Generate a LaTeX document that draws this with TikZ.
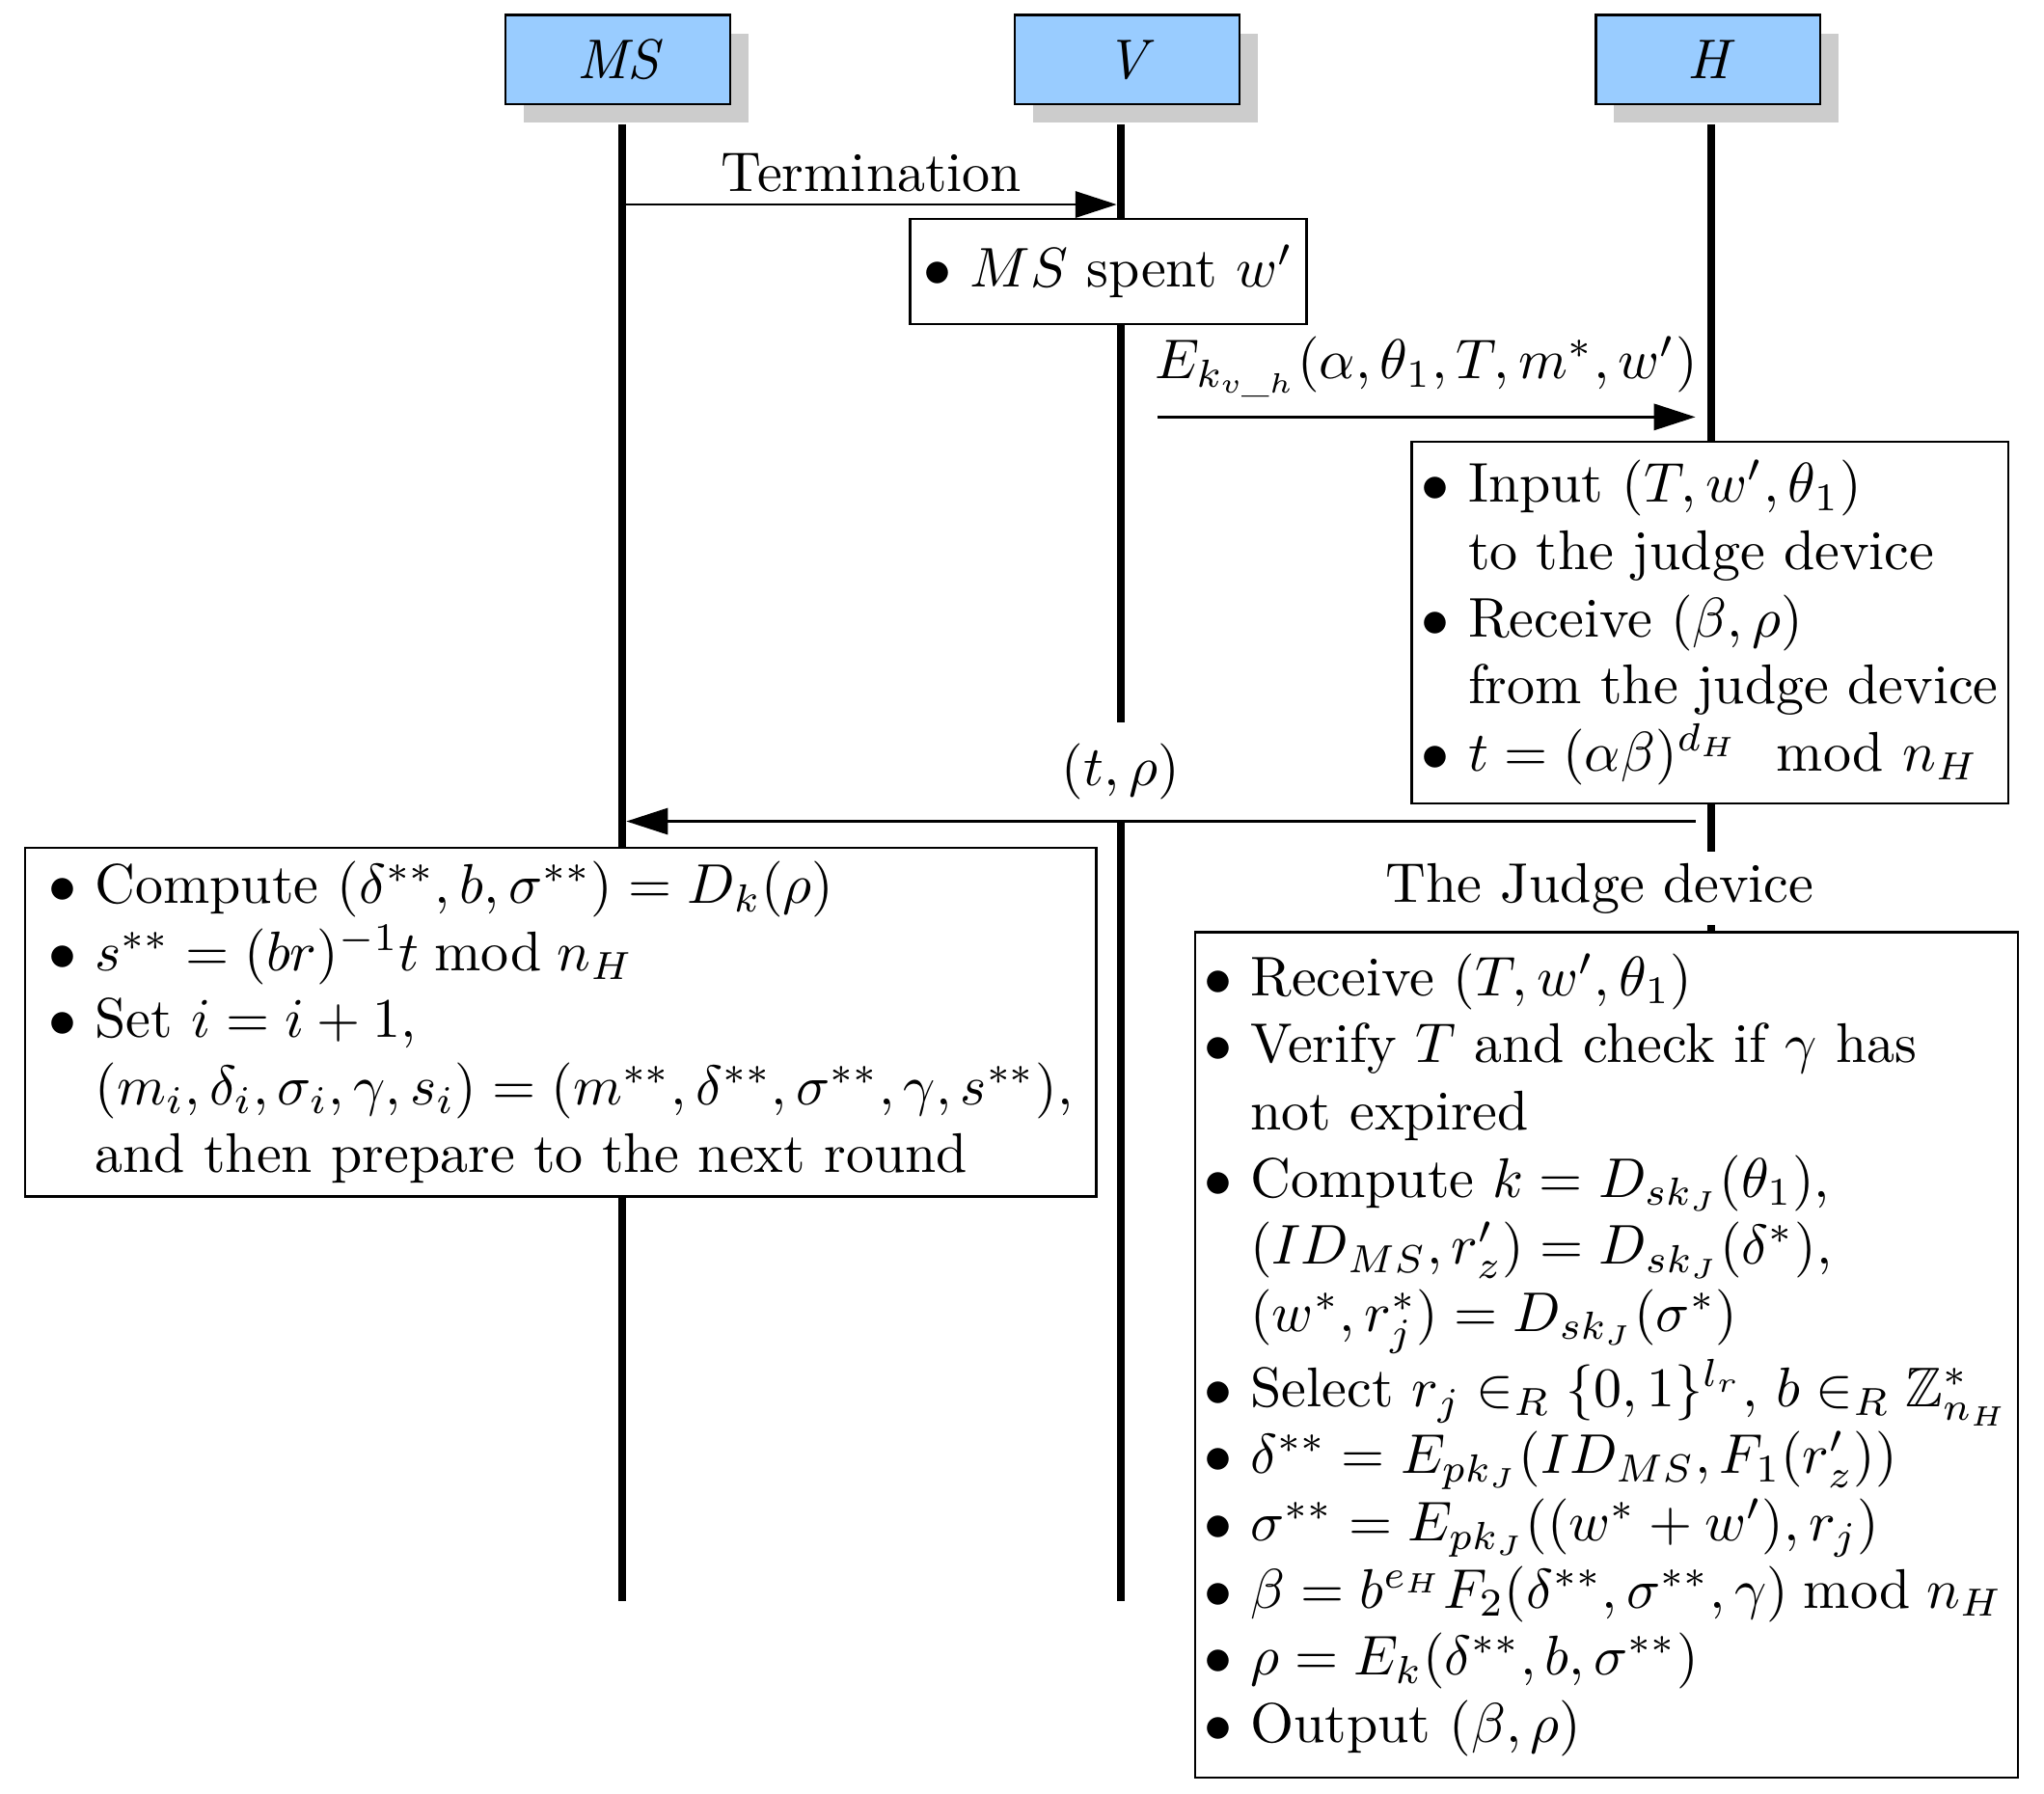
\documentclass[tikz,border=0pt]{standalone}
\usepackage{amsmath,amssymb}
\usetikzlibrary{arrows.meta,shadows}
\definecolor{actorblue}{RGB}{153,204,255}
\newcommand{\bul}{$\bullet$\ }
\newcommand{\bulind}{\hphantom{$\bullet$\ }}

\begin{document}
\begin{tikzpicture}[
    actor/.style={draw, fill=actorblue, minimum width=1.41cm, minimum height=0.56cm, font=\itshape,
      drop shadow={shadow xshift=0.115cm, shadow yshift=-0.115cm, fill=black!20, opacity=1}},
    life/.style={line width=1.4pt},
    msg/.style={-{Triangle[length=7.4pt,width=4.7pt]}},
    note/.style={draw, fill=white, align=left, anchor=north west, inner xsep=1.5pt, inner ysep=2pt},
    lbl/.style={fill=white, inner sep=1pt}
  ]
  \useasboundingbox (0,0) rectangle (12.84,-11.27);

  % actors and lifelines
  \node[actor] (ms) at (3.88,-0.375) {MS};
  \node[actor] (v) at (7.08,-0.375) {V};
  \node[actor] (h) at (10.73,-0.375) {H};
  \coordinate (msend) at (3.91,-10.06);
  \coordinate (vend) at (7.04,-10.06);
  \coordinate (hend) at (10.75,-10.06);
  \draw[life] (msend |- 0,-0.78) -- (msend);
  \draw[life] (vend |- 0,-0.78) -- (vend);
  \draw[life] (hend |- 0,-0.78) -- (hend);

  % MS -> V
  \coordinate (term1) at (3.935,-1.285);
  \coordinate (term2) at (7.015,-1.285);
  \draw[msg] (term1) -- (term2) node[midway, above, inner sep=2pt] (termlbl) {Termination};
  \node[note, minimum width=2.49cm, minimum height=0.66cm] (spent) at (5.71,-1.37) {\bul $MS$ spent $w'$};

  % V -> H
  \coordinate (enc1) at (7.27,-2.62);
  \coordinate (enc2) at (10.65,-2.62);
  \draw[msg] (enc1) -- (enc2) node[midway, above] (enclbl) {$E_{k_{v\_h}}(\alpha,\theta_1,T,m^*,w')$};
  \node[note, minimum width=3.75cm, minimum height=2.27cm] (hbox) at (8.86,-2.77) {\bul Input $(T,w',\theta_1)$\\
    \bulind to the judge device\\
    \bul Receive $(\beta,\rho)$\\
    \bulind from the judge device\\
    \bul $t=(\alpha\beta)^{d_H}\mod{n_H}$};

  % H -> MS
  \node[lbl, minimum height=0.62cm] (trho) at (7.04,-4.85) {$(t,\rho)$};
  \coordinate (ret1) at (10.65,-5.16);
  \coordinate (ret2) at (3.935,-5.16);
  \draw[msg] (ret1) -- (ret2);
  \node[note, minimum width=6.73cm, minimum height=2.19cm] (msbox) at (0.15,-5.32) {\bul Compute $(\delta^{**},b,\sigma^{**})=D_k(\rho)$\\
    \bul $s^{**}=(br)^{-1}t\bmod n_H$\\
    \bul Set $i=i+1$,\\
    \bulind $(m_i,\delta_i,\sigma_i,\gamma,s_i)=(m^{**},\delta^{**},\sigma^{**},\gamma,s^{**})$,\\
    \bulind and then prepare to the next round};

  % judge device
  \node[lbl, minimum height=0.46cm] (judge) at (10.05,-5.58) {The Judge device};
  \node[note, minimum width=5.17cm, minimum height=5.31cm] (jbox) at (7.50,-5.85) {\bul Receive $(T,w',\theta_1)$\\
    \bul Verify $T$ and check if $\gamma$ has\\
    \bulind not expired\\
    \bul Compute $k=D_{sk_J}(\theta_1)$,\\
    \bulind $(ID_{MS},r'_z)=D_{sk_J}(\delta^*)$,\\
    \bulind $(w^*,r^*_j)=D_{sk_J}(\sigma^*)$\\
    \bul Select $r_j\in_R\{0,1\}^{l_r}$, $b\in_R\mathbb{Z}^*_{n_H}$\\
    \bul $\delta^{**}=E_{pk_J}(ID_{MS},F_1(r'_z))$\\
    \bul $\sigma^{**}=E_{pk_J}((w^*+w'),r_j)$\\
    \bul $\beta=b^{e_H}F_2(\delta^{**},\sigma^{**},\gamma)\bmod n_H$\\
    \bul $\rho=E_k(\delta^{**},b,\sigma^{**})$\\
    \bul Output $(\beta,\rho)$};
\end{tikzpicture}
\end{document}
